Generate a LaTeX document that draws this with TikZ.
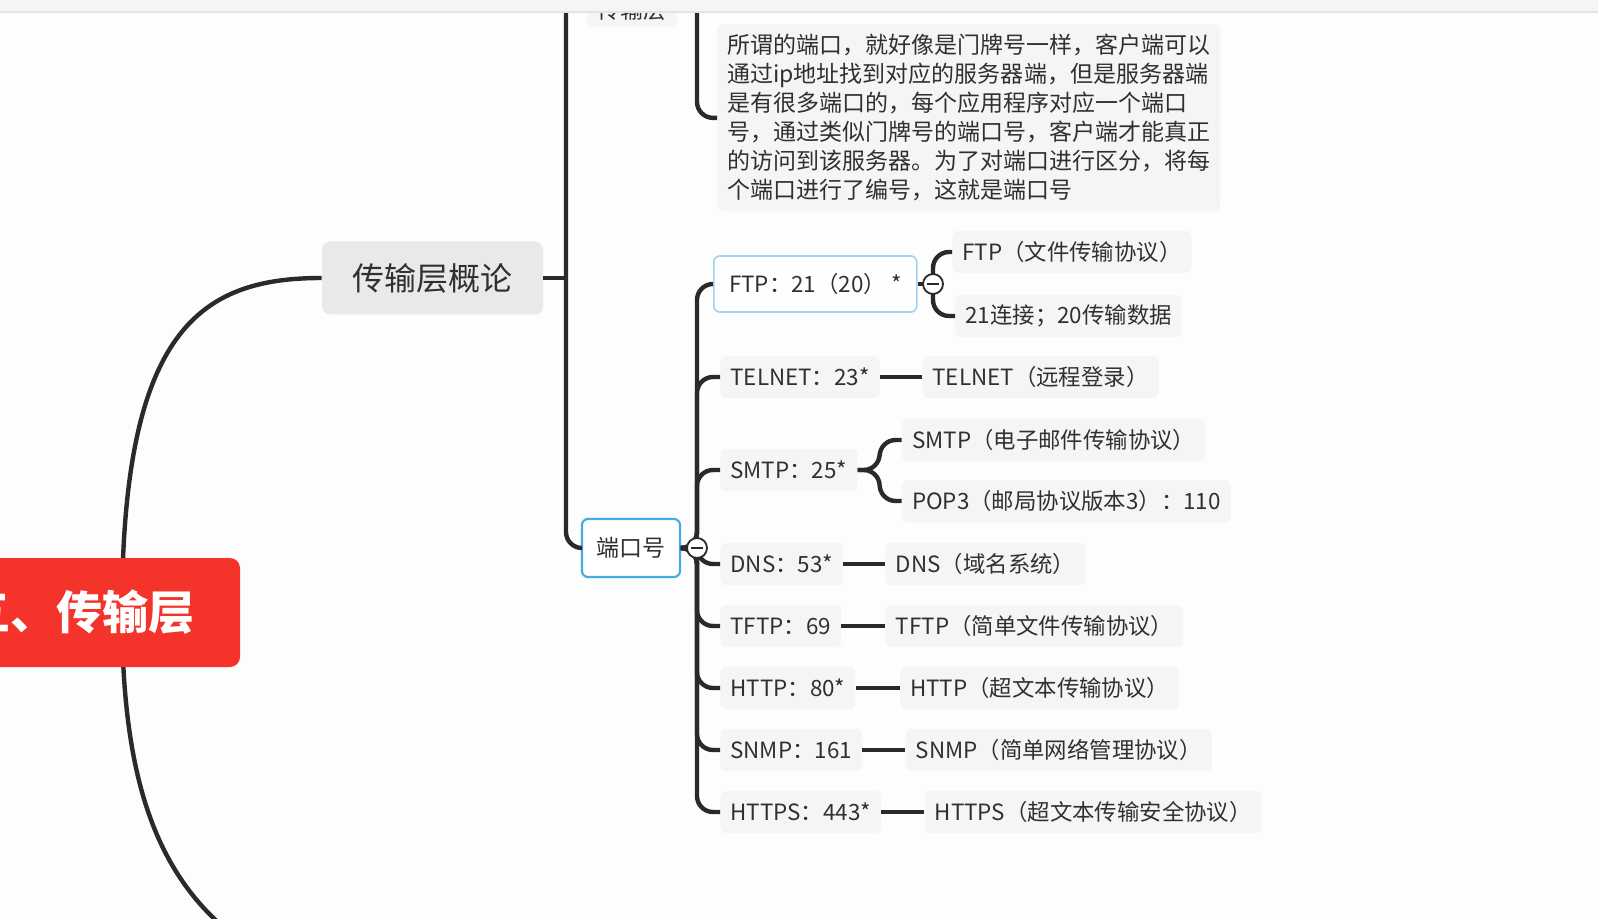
\documentclass[tikz,border=0pt]{standalone}
\usepackage{fontspec}
\setmainfont{Noto Sans CJK SC}
\usetikzlibrary{calc}
\definecolor{bg}{HTML}{FCFDFC}
\definecolor{ln}{HTML}{2A2A2A}
\definecolor{nodebg}{HTML}{F4F5F4}
\definecolor{gailbg}{HTML}{E8E9E8}
\definecolor{rootred}{HTML}{F4342A}
\definecolor{selblue}{HTML}{45ACE3}
\definecolor{sellight}{HTML}{A3D3EF}
\definecolor{txt}{HTML}{303030}
\begin{document}
\begin{tikzpicture}[x=0.5pt,y=-0.5pt,
  leaf/.style={fill=nodebg, rounded corners=3pt, text=txt, anchor=west,
    font=\fontsize{11.2pt}{13pt}\selectfont, inner xsep=5pt, inner ysep=0pt, minimum height=21pt},
  conn/.style={draw=ln, line width=2.2pt, rounded corners=8pt},
  collapse/.style={circle, draw=ln, fill=white, line width=0.9pt, minimum size=10pt, inner sep=0pt},
]
\useasboundingbox (0,0) rectangle (1598,919);
\clip (0,0) rectangle (1598,919);
\fill[bg] (0,0) rectangle (1598,919);

% top (cut-off) node
\node[fill=nodebg, rounded corners=3pt, text=txt, font=\fontsize{11.5pt}{13pt}\selectfont,
  minimum width=45pt, minimum height=17pt, inner sep=0pt] (topn) at (632,10) {传输层};

% description
\node[fill=nodebg, rounded corners=3pt, text=txt, anchor=north west, align=left,
  font=\fontsize{11.5pt}{14.5pt}\selectfont, inner xsep=5pt, inner ysep=5pt,
  minimum width=250pt] (desc) at (717,24)
  {所谓的端口，就好像是门牌号一样，客户端可以\\
   通过ip地址找到对应的服务器端，但是服务器端\\
   是有很多端口的，每个应用程序对应一个端口\\
   号，通过类似门牌号的端口号，客户端才能真正\\
   的访问到该服务器。为了对端口进行区分，将每\\
   个端口进行了编号，这就是端口号};

% main nodes
\node[fill=gailbg, rounded corners=4pt, text=txt, font=\fontsize{16pt}{18pt}\selectfont,
  minimum width=110.5pt, minimum height=36.5pt, inner sep=0pt] (gail) at (432.5,278) {传输层概论};
\node[fill=white, draw=selblue, line width=1.1pt, rounded corners=3pt, text=txt,
  font=\fontsize{11.5pt}{13pt}\selectfont, minimum width=49pt, minimum height=29pt, inner sep=0pt]
  (port) at (631,548) {端口号};

% root and its curves
\coordinate (rc) at (122,612);
\coordinate (rd) at (270,960);
\draw[draw=ln, line width=2.2pt] (rc) .. controls (122,330) and (200,278) .. (gail.west);
\draw[draw=ln, line width=2.2pt] (rc) .. controls (122,800) and (165,900) .. (rd);
\fill[rootred, rounded corners=5pt] (-30,558) rectangle (240,667);
\node[anchor=east, inner sep=0pt, text=white, font=\fontsize{23pt}{25pt}\selectfont\bfseries]
  (root) at (195,612) {五、传输层};

% left trunk
\coordinate (tA) at (566,-20);
\coordinate (tB) at (566,278);
\draw[conn] (gail.east) -- (tB);
\draw[conn] (tA) |- (port.west);
\coordinate (dA) at (697,-20);
\draw[conn] (dA) |- (desc.west);

% port children
\node[fill=white!70!sellight!10, draw=sellight, line width=0.8pt, rounded corners=3pt, text=txt,
  anchor=west, font=\fontsize{11.2pt}{13pt}\selectfont, minimum width=101.5pt, minimum height=28pt,
  inner sep=0pt] (ftp) at (713,284) {FTP：21（20） *};
\node[leaf] (telnet) at (720,377) {TELNET：23*};
\node[leaf] (smtp) at (720,470) {SMTP：25*};
\node[leaf] (dns) at (720,564) {DNS：53*};
\node[leaf] (tftp) at (720,626) {TFTP：69};
\node[leaf] (http) at (720,688) {HTTP：80*};
\node[leaf] (snmp) at (720,750) {SNMP：161};
\node[leaf] (https) at (720,812) {HTTPS：443*};

\coordinate (pj) at (697,548);
\foreach \n in {ftp,telnet,smtp,dns,tftp,http,snmp,https}
  \draw[conn] (port.east) -- (pj) |- (\n.west);

% grandchildren
\coordinate (fj) at (933,284);
\node[leaf] (ftp1) at (952,252) {FTP（文件传输协议）};
\node[leaf] (ftp2) at (955,316) {21连接；20传输数据};
\draw[conn] (ftp.east) -- (fj);
\draw[conn] (fj) |- (ftp1.west);
\draw[conn] (fj) |- (ftp2.west);

\node[leaf] (telnetc) at ($(telnet.east)+(42,0)$) {TELNET（远程登录）};
\draw[conn] (telnet.east) -- (telnetc.west);

\coordinate (sj) at ($(smtp.east)+(22,0)$);
\node[leaf] (smtp1) at ($(smtp.east)+(44,-30)$) {SMTP（电子邮件传输协议）};
\node[leaf] (smtp2) at ($(smtp.east)+(44,31)$) {POP3（邮局协议版本3）：110};
\draw[conn] (smtp.east) -- (sj) |- (smtp1.west);
\draw[conn] (smtp.east) -- (sj) |- (smtp2.west);

\node[leaf] (dnsc) at ($(dns.east)+(42,0)$) {DNS（域名系统）};
\node[leaf] (tftpc) at ($(tftp.east)+(44,0)$) {TFTP（简单文件传输协议）};
\node[leaf] (httpc) at ($(http.east)+(44,0)$) {HTTP（超文本传输协议）};
\node[leaf] (snmpc) at ($(snmp.east)+(43,0)$) {SNMP（简单网络管理协议）};
\node[leaf] (httpsc) at ($(https.east)+(43,0)$) {HTTPS（超文本传输安全协议）};
\foreach \a/\b in {dns/dnsc,tftp/tftpc,http/httpc,snmp/snmpc,https/httpsc}
  \draw[conn] (\a.east) -- (\b.west);

% collapse buttons
\node[collapse] (c1) at (pj) {};
\draw[ln, line width=0.9pt] ($(c1)+(-6,0)$) -- ($(c1)+(6,0)$);
\node[collapse] (c2) at (fj) {};
\draw[ln, line width=0.9pt] ($(c2)+(-6,0)$) -- ($(c2)+(6,0)$);

% top bar
\fill[gray!8] (0,0) rectangle (1598,12);
\draw[gray!22, line width=0.6pt] (0,12) -- (1598,12);
\end{tikzpicture}
\end{document}
